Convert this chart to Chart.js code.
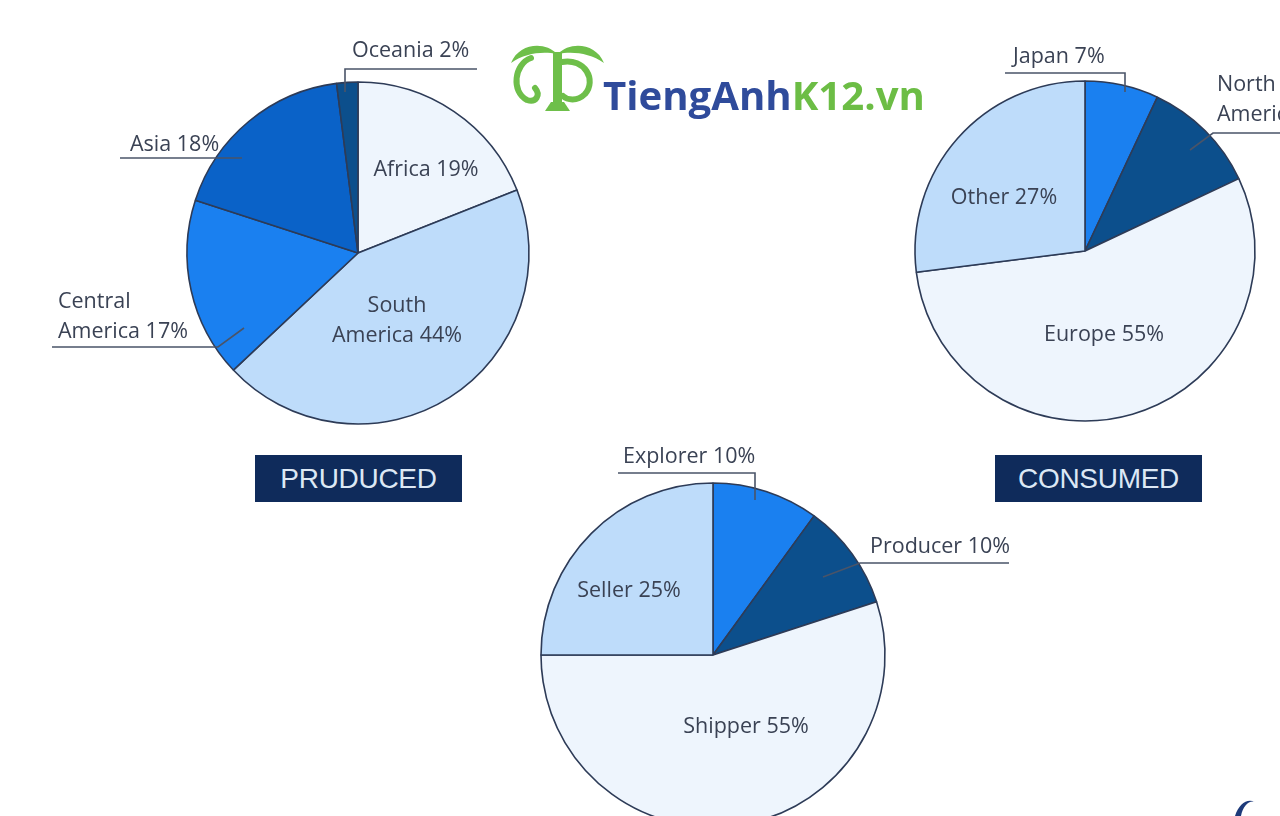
<!DOCTYPE html>
<html>
<head>
<meta charset="utf-8">
<title>Coffee: produced, consumed, profit share</title>
<script src="https://cdn.jsdelivr.net/npm/chart.js"></script>
<style>
  html, body { margin: 0; padding: 0; }
  body {
    width: 1280px; height: 816px; overflow: hidden;
    background: #ffffff; position: relative;
    font-family: "Open Sans", sans-serif;
  }
  canvas.pie { position: absolute; left: 0; top: 0; }
  #deco { position: absolute; left: 0; top: 0; }
  .tag {
    position: absolute; width: 207px; height: 47px;
    background: #0f2b5b; color: #dce8f5;
    font-family: "Liberation Sans", Arial, sans-serif;
    font-size: 28px; line-height: 48px; text-align: center;
    letter-spacing: -0.3px;
  }
  #icon { position: absolute; left: 505px; top: 40px; }
  #swoosh { position: absolute; left: 1225px; top: 790px; }
</style>
</head>
<body>
<svg id="icon" width="105" height="75" viewBox="0 0 105 75">
  <g fill="#6ebf4a">
    <path d="M6,23 C14,3 40,1 52,14 C38,11 20,13 6,23 Z"/>
    <path d="M99,23 C91,3 65,1 53,14 C67,11 85,13 99,23 Z"/>
    <rect x="48" y="12" width="9" height="56"/>
    <path d="M40,71 L65,71 L59,62 L46,62 Z"/>
  </g>
  <g fill="none" stroke="#6ebf4a" stroke-width="6" stroke-linecap="round">
    <path d="M26,18 C9,24 6,52 22,60 C31,63 36,55 30,48"/>
    <path d="M57,22 C80,18 92,40 80,54 C72,62 62,60 58,56"/>
  </g>
</svg>
<svg id="swoosh" width="55" height="26" viewBox="0 0 55 26">
  <path d="M10,26 C14,14 22,8 30,12 C24,10 18,16 16,26 Z" fill="#1d3a7a"/>
</svg>
<canvas id="deco" width="1280" height="816"></canvas>
<div class="tag" style="left:255px; top:455px;">PRUDUCED</div>
<div class="tag" style="left:995px; top:455px;">CONSUMED</div>
<canvas class="pie" id="produced" width="1280" height="816"></canvas>
<canvas class="pie" id="consumed" width="1280" height="816"></canvas>
<canvas class="pie" id="roles" width="1280" height="900"></canvas>

<script>
// ---- data ----
const producedLabels = ['Africa', 'South America', 'Central America', 'Asia', 'Oceania'];
const producedValues = [19, 44, 17, 18, 2];

const consumedLabels = ['Japan', 'North America', 'Europe', 'Other'];
const consumedValues = [7, 11, 55, 27];

const roleLabels = ['Explorer', 'Producer', 'Shipper', 'Seller'];
const roleValues = [10, 10, 55, 25];

// ---- colours ----
const C_PALE = '#eef5fd';
const C_LIGHT = '#bedcfa';
const C_BRIGHT = '#1a80f0';
const C_MID = '#0a62c8';
const C_DARK = '#0c4f8c';

const producedColors = [C_PALE, C_LIGHT, C_BRIGHT, C_MID, C_DARK];
const consumedColors = [C_BRIGHT, C_DARK, C_PALE, C_LIGHT];
const roleColors = [C_BRIGHT, C_DARK, C_PALE, C_LIGHT];

// label placement, offsets in px from the pie centre
const producedSpec = [
  { inside: [68, -83] },
  { inside: [39, 68] },
  { text: [-300, 49], line: [[-306, 94], [-140, 94], [-114, 75]] },
  { text: [-228, -108], line: [[-238, -95], [-116, -95]] },
  { text: [-6, -202], line: [[119, -184], [-13, -184], [-13, -161]] }
];
const consumedSpec = [
  { text: [-72, -194], line: [[-80, -178], [40, -178], [40, -159]] },
  { text: [132, -166], line: [[215, -118], [128, -118], [105, -101]] },
  { inside: [19, 84] },
  { inside: [-81, -53] }
];
const roleSpec = [
  { text: [-90, -198], line: [[-95, -182], [42, -182], [42, -155]] },
  { text: [157, -108], line: [[296, -92], [147, -92], [110, -78]] },
  { inside: [33, 72] },
  { inside: [-84, -64] }
];

function labelLines(name, value) {
  const words = name.split(' ');
  if (words.length > 1) return [words[0], words.slice(1).join(' ') + ' ' + value + '%'];
  return [name + ' ' + value + '%'];
}

const sliceLabels = {
  id: 'sliceLabels',
  afterDatasetsDraw(chart, args, opts) {
    const ctx = chart.ctx;
    const arc = chart.getDatasetMeta(0).data[0];
    const cx = arc.x, cy = arc.y;
    const labels = chart.data.labels;
    const values = chart.data.datasets[0].data;
    ctx.save();
    ctx.font = '21.5px "Open Sans", sans-serif';
    ctx.fillStyle = '#3a4254';
    ctx.strokeStyle = '#4a5468';
    ctx.lineWidth = 1.6;
    ctx.textBaseline = 'middle';
    opts.spec.forEach((s, i) => {
      const lines = labelLines(labels[i], values[i]);
      const lh = 30;
      if (s.inside) {
        ctx.textAlign = 'center';
        const y0 = cy + s.inside[1] - (lines.length - 1) * lh / 2;
        lines.forEach((t, k) => ctx.fillText(t, cx + s.inside[0], y0 + k * lh));
      } else {
        ctx.textAlign = 'left';
        lines.forEach((t, k) => ctx.fillText(t, cx + s.text[0], cy + s.text[1] + k * lh));
        ctx.beginPath();
        s.line.forEach((p, k) => {
          if (k === 0) ctx.moveTo(cx + p[0], cy + p[1]);
          else ctx.lineTo(cx + p[0], cy + p[1]);
        });
        ctx.stroke();
      }
    });
    ctx.restore();
  }
};

function padFor(cx, cy, r, w, h) {
  const side = 2 * r + 1.6;
  const left = cx - side / 2, top = cy - side / 2;
  return { left: left, top: top, right: w - left - side, bottom: h - top - side };
}

function makePie(id, labels, values, colors, spec, cx, cy, r) {
  const el = document.getElementById(id);
  return new Chart(el.getContext('2d'), {
    type: 'pie',
    data: {
      labels: labels,
      datasets: [{
        data: values,
        backgroundColor: colors,
        borderColor: '#2d3b57',
        borderWidth: 1.6
      }]
    },
    options: {
      responsive: false,
      animation: false,
      events: [],
      layout: { padding: padFor(cx, cy, r, el.width, el.height) },
      plugins: {
        legend: { display: false },
        tooltip: { enabled: false },
        sliceLabels: { spec: spec }
      }
    },
    plugins: [sliceLabels]
  });
}

makePie('produced', producedLabels, producedValues, producedColors, producedSpec, 358, 253, 171);
makePie('consumed', consumedLabels, consumedValues, consumedColors, consumedSpec, 1085, 251, 170);
makePie('roles', roleLabels, roleValues, roleColors, roleSpec, 713, 655, 172);

// logo text
(function () {
  const ctx = document.getElementById('deco').getContext('2d');
  const a = 'TiengAnh', b = 'K12.vn';
  let size = 40;
  ctx.font = '700 ' + size + 'px "Open Sans", sans-serif';
  const w = ctx.measureText(a + b).width;
  size = size * 322 / w;
  ctx.font = '700 ' + size + 'px "Open Sans", sans-serif';
  ctx.textBaseline = 'alphabetic';
  ctx.fillStyle = '#2f4b9b';
  ctx.fillText(a, 603, 110);
  ctx.fillStyle = '#6cbd45';
  ctx.fillText(b, 603 + ctx.measureText(a).width, 110);
})();
</script>
</body>
</html>
